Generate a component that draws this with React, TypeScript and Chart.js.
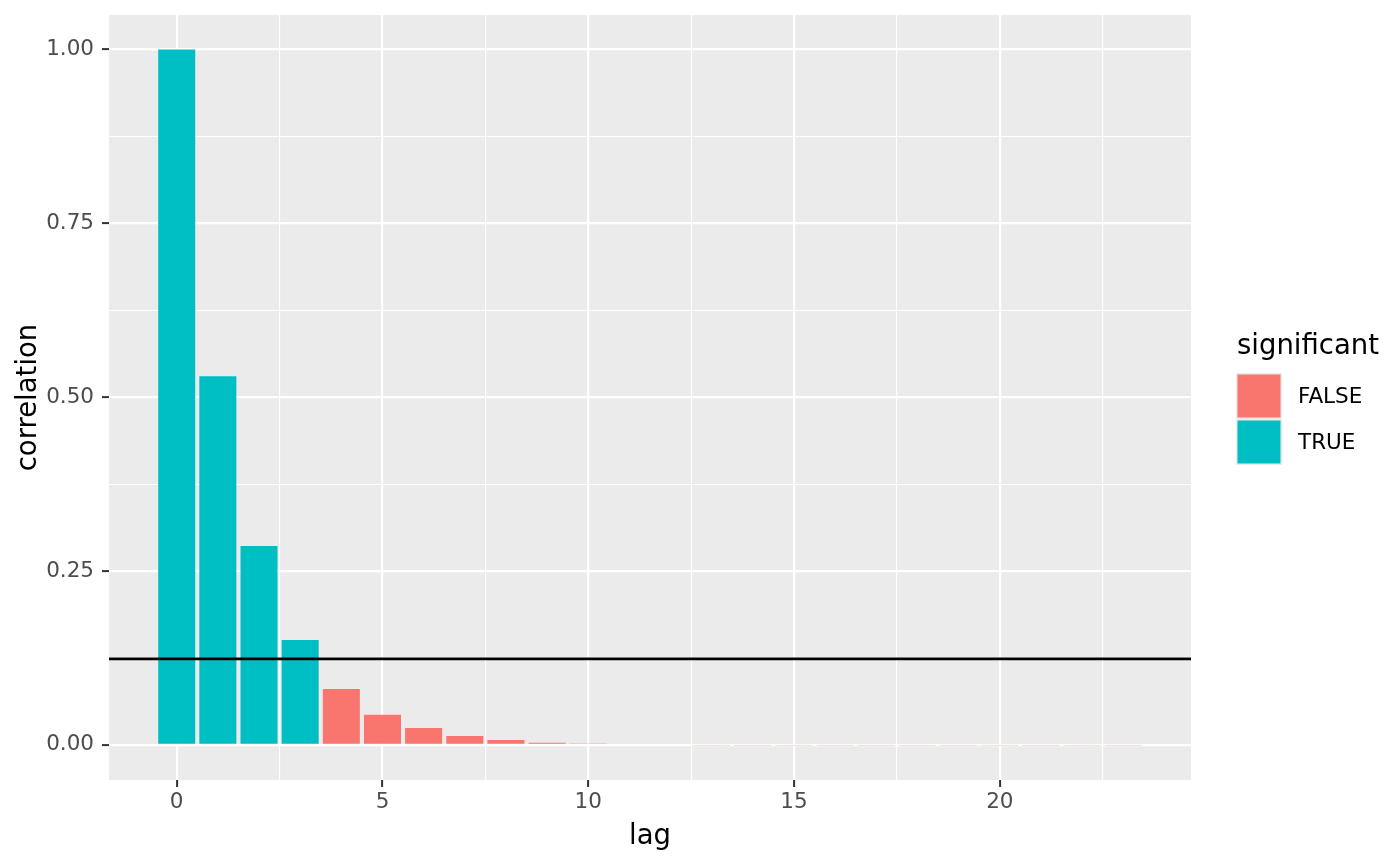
import React, { useEffect, useRef } from "react";
import { Chart, registerables } from "chart.js";

Chart.register(...registerables);

// ---- data ----
const lags = [0, 1, 2, 3, 4, 5, 6, 7, 8, 9, 10, 11, 12, 13, 14, 15, 16, 17, 18, 19, 20, 21, 22, 23];
const correlations = [
  1.0, 0.53, 0.286, 0.151, 0.0805, 0.0432, 0.0244, 0.0129, 0.007, 0.003, 0.002, 0.0,
  0.0, -0.0014, -0.0014, -0.0014, -0.0014, -0.0014, -0.0014, -0.0014, -0.0014, -0.0014,
  -0.0014, -0.0014,
];
const threshold = 0.1237;
const legendLabels = ["FALSE", "TRUE"];
const xMajorTicks = [0, 5, 10, 15, 20];
const xMinorTicks = [2.5, 7.5, 12.5, 17.5, 22.5];
const yMajorTicks = [0, 0.25, 0.5, 0.75, 1.0];
const yMinorTicks = [0.125, 0.375, 0.625, 0.875];
const xRange = [-1.645, 24.645];
const yRange = [-0.0505, 1.0497];

const COLOR_FALSE = "#F8766D";
const COLOR_TRUE = "#00BFC4";
const FONT = '"DejaVu Sans", "Liberation Sans", sans-serif';

export default function App() {
  const canvasRef = useRef<HTMLCanvasElement | null>(null);

  useEffect(() => {
    document.body.style.margin = "0";
    const canvas = canvasRef.current;
    if (!canvas) return;

    const significant = correlations.map((v) => Math.abs(v) > threshold);

    const ggPlugin = {
      id: "ggPanel",
      beforeDraw(chart: any) {
        const { ctx, chartArea: a } = chart;
        ctx.save();
        ctx.fillStyle = "#FFFFFF";
        ctx.fillRect(0, 0, chart.width, chart.height);
        ctx.fillStyle = "#EBEBEB";
        ctx.fillRect(a.left, a.top, a.right - a.left, a.bottom - a.top);
        ctx.restore();
      },
      afterDatasetsDraw(chart: any) {
        const { ctx, chartArea: a } = chart;
        const y = chart.scales.y.getPixelForValue(threshold);
        ctx.save();
        ctx.strokeStyle = "#000000";
        ctx.lineWidth = 2.6;
        ctx.beginPath();
        ctx.moveTo(a.left, y);
        ctx.lineTo(a.right, y);
        ctx.stroke();
        ctx.restore();
      },
      afterDraw(chart: any) {
        const { ctx, chartArea: a } = chart;
        ctx.save();
        ctx.fillStyle = "#000000";
        ctx.font = `27.5px ${FONT}`;
        // x title
        ctx.textAlign = "center";
        ctx.textBaseline = "alphabetic";
        ctx.fillText("lag", (a.left + a.right) / 2, 844);
        // y title
        ctx.save();
        ctx.translate(36, (a.top + a.bottom) / 2);
        ctx.rotate(-Math.PI / 2);
        ctx.fillText("correlation", 0, 0);
        ctx.restore();
        // legend
        ctx.textAlign = "left";
        ctx.fillText("significant", 1237, 354);
        const colors = [COLOR_FALSE, COLOR_TRUE];
        const keyX = 1236;
        const keyY = 373;
        const keyW = 46;
        const keyH = 46;
        ctx.font = `21.5px ${FONT}`;
        ctx.textBaseline = "middle";
        legendLabels.forEach((lab, i) => {
          const y0 = keyY + i * keyH;
          ctx.fillStyle = "#EBEBEB";
          ctx.fillRect(keyX, y0, keyW, keyH);
          ctx.fillStyle = colors[i];
          ctx.fillRect(keyX + 1.5, y0 + 1.5, keyW - 3, keyH - 3);
          ctx.fillStyle = "#000000";
          ctx.fillText(lab, 1298, y0 + keyH / 2 + 1);
        });
        ctx.restore();
      },
    };

    const isMajorX = (v: number) => xMajorTicks.includes(v);
    const isMajorY = (v: number) => yMajorTicks.some((t) => Math.abs(t - v) < 1e-9);

    const chart = new Chart(canvas, {
      type: "bar",
      data: {
        datasets: [
          {
            label: "correlation",
            data: lags.map((l, i) => ({ x: l, y: correlations[i] })),
            backgroundColor: significant.map((s) => (s ? COLOR_TRUE : COLOR_FALSE)),
            borderWidth: 0,
            barPercentage: 0.9,
            categoryPercentage: 1.0,
          },
        ],
      },
      options: {
        animation: false,
        responsive: false,
        devicePixelRatio: 1,
        layout: { padding: { left: 0, top: 15, right: 209, bottom: 0 } },
        plugins: { legend: { display: false }, tooltip: { enabled: false } },
        scales: {
          x: {
            type: "linear",
            min: xRange[0],
            max: xRange[1],
            offset: false,
            afterBuildTicks: (scale: any) => {
              scale.ticks = [...xMajorTicks, ...xMinorTicks].sort((a, b) => a - b).map((v) => ({ value: v }));
            },
            afterFit: (scale: any) => {
              scale.height = 86;
              scale.paddingLeft = 0;
              scale.paddingRight = 0;
              scale.paddingTop = 0;
              scale.paddingBottom = 0;
            },
            grid: {
              offset: false,
              color: "#FFFFFF",
              lineWidth: (c: any) => (c.tick && isMajorX(c.tick.value) ? 2.2 : 1.1),
              drawTicks: true,
              tickLength: 7,
              tickWidth: 2,
              tickColor: (c: any) => (c.tick && isMajorX(c.tick.value) ? "#333333" : "rgba(0,0,0,0)"),
            },
            border: { display: false },
            ticks: {
              autoSkip: false,
              maxRotation: 0,
              padding: 3,
              color: "#4D4D4D",
              font: { family: FONT, size: 21.5 },
              callback: (v: any) => (isMajorX(Number(v)) ? String(v) : ""),
            },
          },
          y: {
            type: "linear",
            min: yRange[0],
            max: yRange[1],
            afterBuildTicks: (scale: any) => {
              scale.ticks = [...yMajorTicks, ...yMinorTicks].sort((a, b) => a - b).map((v) => ({ value: v }));
            },
            afterFit: (scale: any) => {
              scale.width = 109;
              scale.paddingLeft = 0;
              scale.paddingRight = 0;
              scale.paddingTop = 0;
              scale.paddingBottom = 0;
            },
            grid: {
              color: "#FFFFFF",
              lineWidth: (c: any) => (c.tick && isMajorY(c.tick.value) ? 2.2 : 1.1),
              drawTicks: true,
              tickLength: 7,
              tickWidth: 2,
              tickColor: (c: any) => (c.tick && isMajorY(c.tick.value) ? "#333333" : "rgba(0,0,0,0)"),
            },
            border: { display: false },
            ticks: {
              autoSkip: false,
              padding: 8,
              color: "#4D4D4D",
              font: { family: FONT, size: 21.5 },
              callback: (v: any) => (isMajorY(Number(v)) ? Number(v).toFixed(2) : ""),
            },
          },
        },
      },
      plugins: [ggPlugin],
    } as any);

    return () => chart.destroy();
  }, []);

  return (
    <div style={{ position: "absolute", left: 0, top: 0, width: 1400, height: 866 }}>
      <canvas ref={canvasRef} width={1400} height={866} style={{ display: "block", width: 1400, height: 866 }} />
    </div>
  );
}
